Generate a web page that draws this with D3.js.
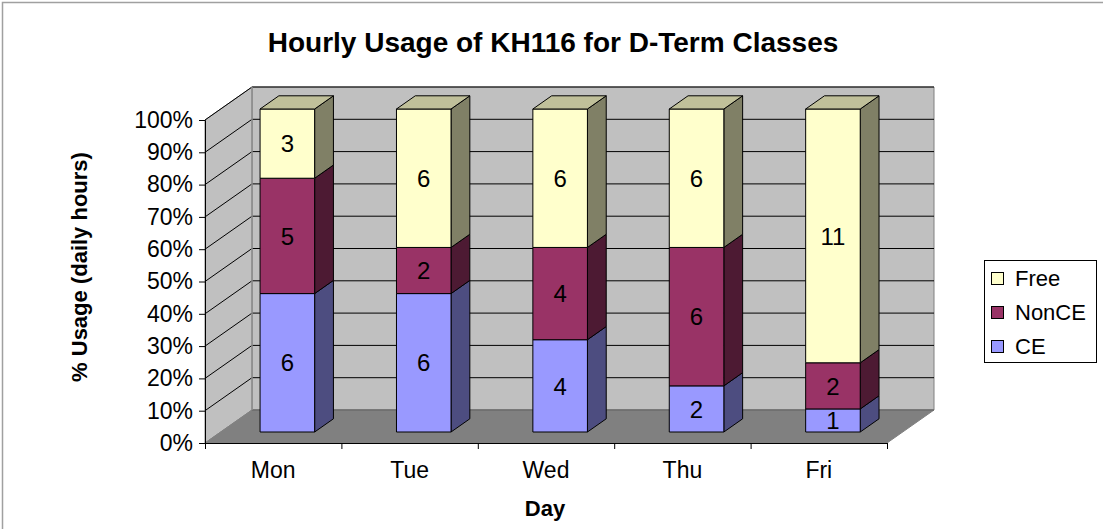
<!DOCTYPE html>
<html>
<head>
<meta charset="utf-8">
<script src="https://cdn.jsdelivr.net/npm/d3@7"></script>
<style>
  html, body { margin: 0; padding: 0; background: #fff; }
  svg { display: block; font-family: "Liberation Sans", Arial, sans-serif; }
</style>
</head>
<body>
<svg id="chart" width="1103" height="529"></svg>
<script>
// ---------- data ----------
const categories = ["Mon", "Tue", "Wed", "Thu", "Fri"];
const seriesNames = ["CE", "NonCE", "Free"];
const ceHours    = [6, 6, 4, 2, 1];
const nonCeHours = [5, 2, 4, 6, 2];
const freeHours  = [3, 6, 6, 6, 11];
const yTickValues = [0, 0.1, 0.2, 0.3, 0.4, 0.5, 0.6, 0.7, 0.8, 0.9, 1.0];
const titleText = "Hourly Usage of KH116 for D-Term Classes";
const yTitle = "% Usage (daily hours)";
const xTitle = "Day";

// ---------- styles ----------
const frontColor = { CE: "#9999ff", NonCE: "#993366", Free: "#ffffcc" };
const sideColor  = { CE: "#4d4d80", NonCE: "#4d1a33", Free: "#808066" };
const topColor   = { CE: "#7373bf", NonCE: "#73264d", Free: "#c0c09a" };

const table = categories.map((c, i) => ({
  cat: c, CE: ceHours[i], NonCE: nonCeHours[i], Free: freeHours[i]
}));

const svg = d3.select("#chart");

// plot geometry (front plane)
const plotLeft = 205, plotRight = 887, plotBottom = 443, plotTop = 120;
const DX = 47, DY = -33;          // wall depth offset
const f0 = 0.333, fd = 0.4;        // bar depth start and depth fraction

const x = d3.scaleBand().domain(categories).range([plotLeft, plotRight]);
const y = d3.scaleLinear().domain([0, 1]).range([plotBottom, plotTop]);
const P = (px, py, f) => [px + DX * f, py + DY * f];
const poly = pts => pts.map(p => p.join(",")).join(" ");

// outer border (top/left visible)
svg.append("path").attr("d", "M2.5,529 L2.5,2.5 L1103,2.5")
  .attr("fill", "none").attr("stroke", "#a0a0a0").attr("stroke-width", 1.5);

// title
svg.append("text").attr("x", 553).attr("y", 52).attr("text-anchor", "middle")
  .attr("font-size", 28).attr("font-weight", "bold").text(titleText);

// walls
svg.append("polygon")
  .attr("points", poly([P(plotLeft, y(1), 1), P(plotRight, y(1), 1), P(plotRight, y(0), 1), P(plotLeft, y(0), 1)]))
  .attr("fill", "#c0c0c0").attr("stroke", "#808080");
svg.append("polygon")
  .attr("points", poly([[plotLeft, y(1)], P(plotLeft, y(1), 1), P(plotLeft, y(0), 1), [plotLeft, y(0)]]))
  .attr("fill", "#c0c0c0").attr("stroke", "#808080");
svg.append("polygon")
  .attr("points", poly([[plotLeft, y(0)], [plotRight, y(0)], P(plotRight, y(0), 1), P(plotLeft, y(0), 1)]))
  .attr("fill", "#808080").attr("stroke", "#808080");

// gridlines
const grid = svg.append("g").attr("stroke", "#000").attr("stroke-width", 1).attr("fill", "none");
yTickValues.forEach(t => {
  if (t > 0) {
    grid.append("line")
      .attr("x1", plotLeft).attr("y1", y(t))
      .attr("x2", P(plotLeft, y(t), 1)[0]).attr("y2", P(plotLeft, y(t), 1)[1]);
  }
  grid.append("line")
    .attr("x1", P(plotLeft, y(t), 1)[0]).attr("y1", P(plotLeft, y(t), 1)[1])
    .attr("x2", P(plotRight, y(t), 1)[0]).attr("y2", P(plotRight, y(t), 1)[1])
    .attr("stroke", t === 0 ? "#606060" : "#000");
});
// back-left edge of back wall
svg.append("line")
  .attr("x1", P(plotLeft, y(1), 1)[0]).attr("y1", P(plotLeft, y(1), 1)[1])
  .attr("x2", P(plotLeft, y(0), 1)[0]).attr("y2", P(plotLeft, y(0), 1)[1])
  .attr("stroke", "#909090").attr("stroke-width", 1.5);

// y axis
const yAxis = svg.append("g").attr("transform", `translate(${plotLeft},0)`)
  .call(d3.axisLeft(y).tickValues(yTickValues).tickSize(6).tickPadding(6)
    .tickFormat(d3.format(".0%")));
yAxis.selectAll("text").attr("font-size", 23).attr("font-family", "Liberation Sans, Arial, sans-serif").attr("fill", "#000");
yAxis.select(".domain").attr("stroke", "#000");

// x axis: labels
const xAxis = svg.append("g").attr("transform", `translate(0,${plotBottom})`)
  .call(d3.axisBottom(x).tickSizeInner(0).tickSizeOuter(0).tickPadding(19));
xAxis.selectAll("text").attr("font-size", 23).attr("font-family", "Liberation Sans, Arial, sans-serif").attr("fill", "#000");
xAxis.select(".domain").attr("stroke", "#000");
// x axis boundary ticks
const xb = d3.scaleLinear().domain([0, categories.length]).range([plotLeft, plotRight]);
const xTicks = svg.append("g").attr("transform", `translate(0,${plotBottom})`)
  .call(d3.axisBottom(xb).ticks(categories.length).tickSize(6).tickFormat(""));
xTicks.select(".domain").remove();
xTicks.selectAll("line").attr("stroke", "#000");

// bars
const stack = d3.stack().keys(seriesNames).offset(d3.stackOffsetExpand);
const layers = stack(table);
const barW = x.bandwidth() * 0.4;
const sdx = DX * fd, sdy = DY * fd;
const barsG = svg.append("g").attr("stroke", "#000").attr("stroke-width", 1).attr("stroke-linejoin", "round");

categories.forEach((c, ci) => {
  const xl = x(c) + (x.bandwidth() - barW) / 2 + DX * f0 - 1.5;
  const xr = xl + barW;
  layers.forEach((layer, li) => {
    const d = layer[ci];
    const key = layer.key;
    const yb = y(d[0]) + DY * f0;
    const yt = y(d[1]) + DY * f0;
    barsG.append("polygon")
      .attr("points", poly([[xr, yb], [xr + sdx, yb + sdy], [xr + sdx, yt + sdy], [xr, yt]]))
      .attr("fill", sideColor[key]);
    barsG.append("rect").attr("x", xl).attr("y", yt).attr("width", barW).attr("height", yb - yt)
      .attr("fill", frontColor[key]);
    if (li === layers.length - 1) {
      barsG.append("polygon")
        .attr("points", poly([[xl, yt], [xl + sdx, yt + sdy], [xr + sdx, yt + sdy], [xr, yt]]))
        .attr("fill", topColor[key]);
    }
    svg.append("text").attr("x", xl + barW / 2).attr("y", (yb + yt) / 2)
      .attr("dy", "0.36em").attr("text-anchor", "middle").attr("font-size", 24)
      .attr("fill", "#000").text(d.data[key]);
  });
});

// axis titles
svg.append("text").attr("transform", "translate(87,267) rotate(-90)")
  .attr("text-anchor", "middle").attr("font-size", 22).attr("font-weight", "bold").text(yTitle);
svg.append("text").attr("x", 545).attr("y", 516).attr("text-anchor", "middle")
  .attr("font-size", 22).attr("font-weight", "bold").text(xTitle);

// legend
const legend = svg.append("g");
legend.append("rect").attr("x", 984.5).attr("y", 260.5).attr("width", 112).attr("height", 102)
  .attr("fill", "#fff").attr("stroke", "#000");
const legendOrder = seriesNames.slice().reverse();
legendOrder.forEach((k, i) => {
  const cy = 278 + i * 34;
  legend.append("rect").attr("x", 991.5).attr("y", cy - 6 + 0.5).attr("width", 12).attr("height", 12)
    .attr("fill", frontColor[k]).attr("stroke", "#000");
  legend.append("text").attr("x", 1015).attr("y", cy + 8).attr("font-size", 22).text(k);
});
</script>
</body>
</html>
